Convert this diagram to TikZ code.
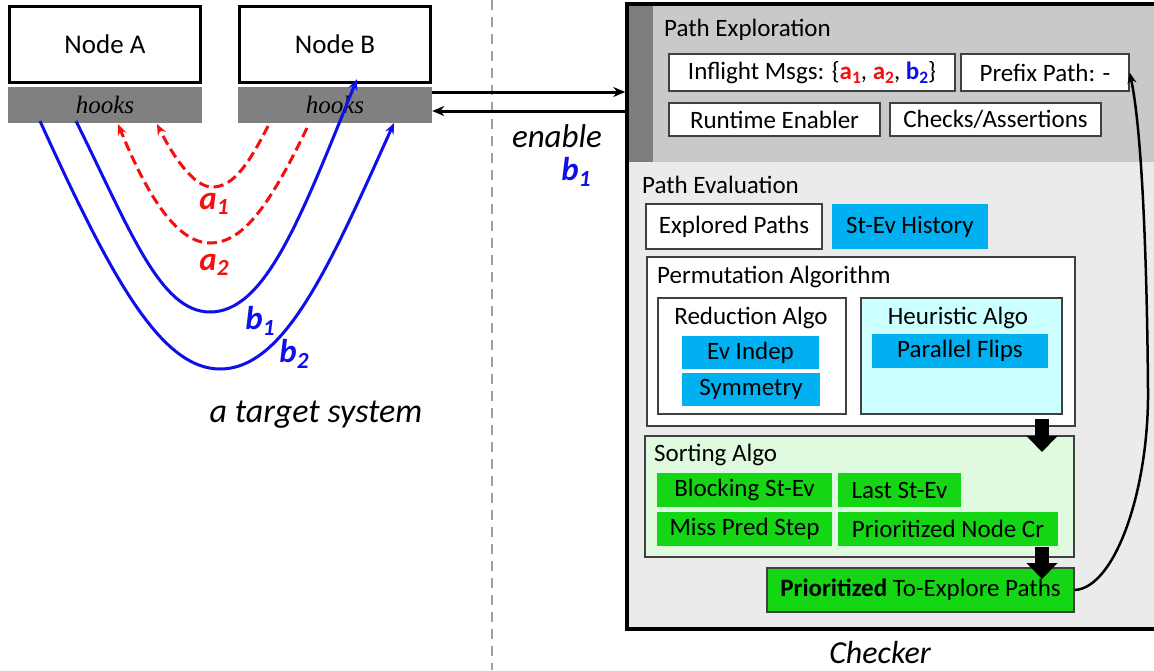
\documentclass[tikz,border=0pt]{standalone}
\usepackage{fontspec}
\usepackage{graphicx}
\setmainfont{Carlito}
\newfontfamily\hookfont{Liberation Serif}
\usetikzlibrary{arrows.meta,calc}
\definecolor{hookgray}{RGB}{128,128,128}
\definecolor{pebg}{RGB}{201,201,201}
\definecolor{stripgray}{RGB}{125,125,125}
\definecolor{pevbg}{RGB}{235,235,235}
\definecolor{boxline}{RGB}{64,64,64}
\definecolor{cyanblue}{RGB}{0,176,240}
\definecolor{lightcyan}{RGB}{204,255,255}
\definecolor{lightgreen}{RGB}{224,250,224}
\definecolor{brightgreen}{RGB}{20,214,20}
\definecolor{myred}{RGB}{245,15,15}
\definecolor{myblue}{RGB}{15,15,235}
\definecolor{dashgray}{RGB}{160,160,160}
\newcommand\sbs[1]{\raisebox{-0.35ex}{\scalebox{0.7}{#1}}}
\tikzset{
  nodebox/.style={draw=black, line width=3pt, fill=white, minimum width=191pt, minimum height=76pt, inner sep=0pt, font=\fontsize{27}{32}\selectfont},
  hookbar/.style={fill=hookgray, minimum width=194pt, minimum height=36pt, inner sep=0pt, font=\hookfont\itshape\fontsize{25}{30}\selectfont},
  ibox/.style={draw=boxline, line width=1.3pt, fill=white, inner sep=0pt, font=\fontsize{25}{29}\selectfont},
  bluebox/.style={fill=cyanblue, inner sep=0pt, font=\fontsize{25}{29}\selectfont},
  greenbox/.style={fill=brightgreen, inner sep=0pt, font=\fontsize{25}{29}\selectfont},
  ttl/.style={anchor=west, inner sep=0pt, font=\fontsize{25}{30}\selectfont},
  ctl/.style={inner sep=0pt, font=\fontsize{25}{30}\selectfont},
  bcurve/.style={draw=myblue, line width=3pt, -{Stealth[length=11pt,width=9pt]}},
  rcurve/.style={draw=myred, line width=3pt, dash pattern=on 10pt off 5pt, -{Stealth[length=11pt,width=9pt]}},
  lbl/.style={inner sep=0pt, font=\bfseries\itshape\fontsize{33}{38}\selectfont},
  bigit/.style={inner sep=0pt, font=\itshape\fontsize{33}{38}\selectfont},
  blockarrow/.style={draw=black, line width=14pt, -{Triangle[width=30pt,length=16pt]}},
  linkarrow/.style={draw=black, line width=3pt, -{Stealth[length=12pt,width=10pt]}}
}
\begin{document}
\begin{tikzpicture}[x=1pt,y=-1pt]
\useasboundingbox (0,0) rectangle (1154,670);
\fill[white] (0,0) rectangle (1154,670);

% left side: target system
\node[nodebox] (nodeA) at (105,44.5) {Node A};
\node[hookbar] (hooksA) at (105,105) {hooks};
\node[nodebox] (nodeB) at (335,44.5) {Node B};
\node[hookbar] (hooksB) at (335,105) {hooks};

% dashed separator
\draw[dashgray, line width=1.3pt, dash pattern=on 10pt off 7pt] (492,0) -- (492,670);

% message curves
\coordinate (b2s) at (40,121);
\coordinate (b2e) at (394,123);
\coordinate (b1s) at (76,121);
\coordinate (b1e) at (357,79);
\coordinate (a1s) at (268,126);
\coordinate (a1e) at (157,124);
\coordinate (a2s) at (307,128);
\coordinate (a2e) at (118,124);
\draw[bcurve] (b2s) .. controls (110,275) and (160,369) .. (220,369) .. controls (285,369) and (330,265) .. (b2e);
\draw[bcurve] (b1s) .. controls (130,230) and (160,312) .. (210,312) .. controls (265,312) and (300,220) .. (b1e);
\draw[rcurve] (a1s) .. controls (245,172) and (230,187) .. (212,187) .. controls (195,187) and (175,160) .. (a1e);
\draw[rcurve] (a2s) .. controls (272,200) and (245,243) .. (210,243) .. controls (175,243) and (145,190) .. (a2e);

\node[lbl, text=myred] (la1) at (214,204) {a\sbs{1}};
\node[lbl, text=myred] (la2) at (214,265) {a\sbs{2}};
\node[lbl, text=myblue] (lb1) at (260,321) {b\sbs{1}};
\node[lbl, text=myblue] (lb2) at (294,354) {b\sbs{2}};

\node[anchor=base, inner sep=0pt, font=\itshape\fontsize{34}{40}\selectfont] (target) at (316,422) {a target system};

% enable
\node[bigit, anchor=base] (enable) at (557,147) {enable};
\node[lbl, text=myblue] (enb1) at (576,172) {b\sbs{1}};

% checker background
\fill[pebg] (627,4) rectangle (1168,162);
\fill[stripgray] (627,4) rectangle (653,162);
\fill[pevbg] (627,162) rectangle (1168,629);
\node[draw=black, line width=3.5pt, minimum width=541pt, minimum height=625pt, inner sep=0pt] (checker) at (897.5,316.5) {};

\draw[linkarrow] ([yshift=13pt]hooksB.east) -- ([yshift=13pt]hooksB.east -| checker.west);
\draw[linkarrow] ([yshift=-6pt]hooksB.east -| checker.west) -- ([yshift=-6pt]hooksB.east);

% Path Exploration
\node[ttl] (petitle) at (664,30) {Path Exploration};
\node[ibox, minimum width=286pt, minimum height=37pt] (inflight) at (812,72.5)
  {Inflight Msgs: \{{\color{myred}\bfseries a\sbs{1}}, {\color{myred}\bfseries a\sbs{2}}, {\color{myblue}\bfseries b\sbs{2}}\}\hspace{18pt}};
\node[ibox, minimum width=168pt, minimum height=37pt] (prefix) at (1045,72.5) {Prefix Path: -\hspace{16pt}};
\node[ibox, minimum width=211pt, minimum height=33pt] (runtime) at (774.5,119.5) {Runtime Enabler};
\node[ibox, minimum width=211pt, minimum height=33pt] (checks) at (995.5,119.5) {Checks/Assertions};

% Path Evaluation
\node[ttl] (pevtitle) at (642,185) {Path Evaluation};
\node[ibox, minimum width=176pt, minimum height=45pt] (explored) at (734,226.5) {Explored Paths};
\node[bluebox, minimum width=156pt, minimum height=45pt] (stev) at (910,226.5) {St-Ev History};

\node[ibox, minimum width=428pt, minimum height=169pt] (perm) at (861,341.5) {};
\node[ttl] (permtitle) at (657,277) {Permutation Algorithm};
\node[ibox, minimum width=188pt, minimum height=116pt] (reduction) at (752,356) {};
\node[ctl] (redtitle) at (751,318) {Reduction Algo};
\node[bluebox, minimum width=137pt, minimum height=33pt] (evindep) at (750.5,352.5) {Ev Indep};
\node[bluebox, minimum width=138pt, minimum height=33pt] (symmetry) at (751,389.5) {Symmetry};
\node[ibox, fill=lightcyan, minimum width=201pt, minimum height=116pt] (heuristic) at (961.5,356) {};
\node[ctl] (heurtitle) at (958,318) {Heuristic Algo};
\node[bluebox, minimum width=176pt, minimum height=34pt] (parflips) at (960,351) {Parallel Flips};

\node[ibox, fill=lightgreen, minimum width=429pt, minimum height=121pt] (sorting) at (859.5,496.5) {};
\node[ttl] (sorttitle) at (654,455) {Sorting Algo};
\node[greenbox, minimum width=175pt, minimum height=34pt] (blocking) at (744.5,490) {Blocking St-Ev};
\node[greenbox, minimum width=123pt, minimum height=34pt] (last) at (899.5,490) {Last St-Ev};
\node[greenbox, minimum width=175pt, minimum height=34pt] (miss) at (744.5,529) {Miss Pred Step};
\node[greenbox, minimum width=220pt, minimum height=34pt] (prionode) at (948,529) {Prioritized Node Cr};

\node[ibox, fill=brightgreen, minimum width=307pt, minimum height=44pt] (toexp) at (920.5,590) {\textbf{Prioritized} To-Explore Paths};

% block arrows
\coordinate (ar1s) at (1042,419);
\coordinate (ar1e) at (1042,452);
\coordinate (ar2s) at (1042,547);
\coordinate (ar2e) at (1042,579);
\draw[blockarrow] (ar1s) -- (ar1e);
\draw[blockarrow] (ar2s) -- (ar2e);

% feedback curve
\draw[black, line width=2.5pt, -{Stealth[length=11pt,width=9pt]}] (toexp.east) .. controls (1115,588) and (1149,490) .. (1148,390) .. controls (1147,260) and (1142,130) .. (prefix.east);

\node[anchor=base, inner sep=0pt, font=\itshape\fontsize{32}{38}\selectfont] (checkerlbl) at (880,663) {Checker};
\end{tikzpicture}
\end{document}
